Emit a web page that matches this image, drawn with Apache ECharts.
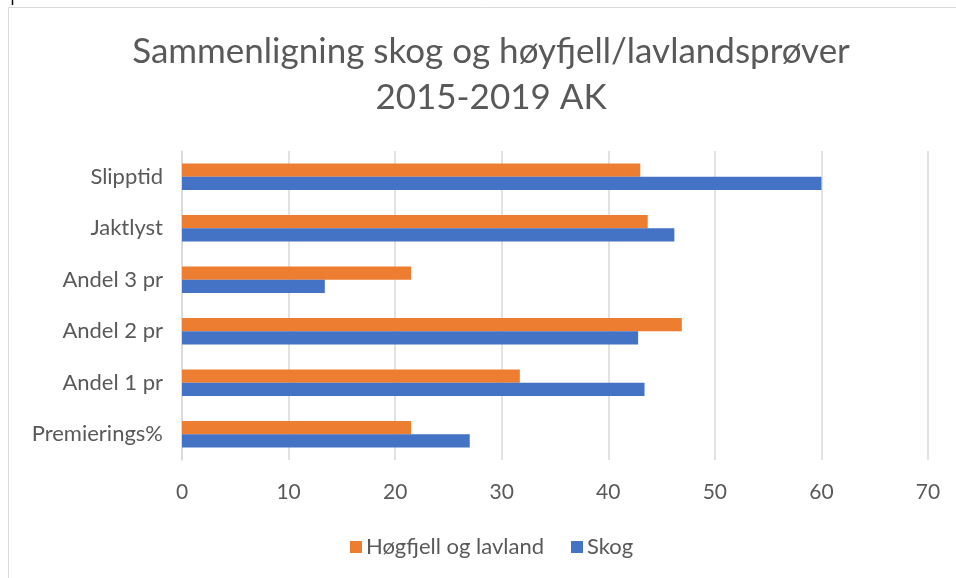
<!DOCTYPE html>
<html>
<head>
<meta charset="utf-8">
<script src="https://cdn.jsdelivr.net/npm/echarts@6/dist/echarts.min.js"></script>
<style>
html,body{margin:0;padding:0;background:#fff;}
#chart{width:956px;height:578px;}
</style>
</head>
<body>
<div id="chart"></div>
<script>
const categories = ['Premierings%', 'Andel 1 pr', 'Andel 2 pr', 'Andel 3 pr', 'Jaktlyst', 'Slipptid'];
const hoegfjell = [21.5, 31.7, 46.9, 21.5, 43.7, 43.0];
const skog = [27.0, 43.4, 42.8, 13.4, 46.2, 60.0];
const seriesNames = ['Høgfjell og lavland', 'Skog'];
const titleLines = 'Sammenligning skog og høyfjell/lavlandsprøver\n2015-2019 AK';
const xTicks = { min: 0, max: 70, interval: 10 };

const FONT = 'Lato';
const chart = echarts.init(document.getElementById('chart'), null, { renderer: 'canvas' });
chart.setOption({
  backgroundColor: '#fff',
  animation: false,
  graphic: [
    { type: 'line', shape: { x1: 8.5, y1: 7.5, x2: 956, y2: 7.5 }, style: { stroke: '#d9d9d9', lineWidth: 1 } },
    { type: 'line', shape: { x1: 8.5, y1: 7.5, x2: 8.5, y2: 578 }, style: { stroke: '#d9d9d9', lineWidth: 1 } },
    { type: 'line', shape: { x1: 12.5, y1: 0, x2: 12.5, y2: 5 }, style: { stroke: '#000', lineWidth: 1.5 } }
  ],
  title: {
    text: titleLines,
    left: 486,
    top: 24,
    textAlign: 'center',
    textStyle: { fontFamily: FONT, fontSize: 35, fontWeight: 'normal', color: '#595959', lineHeight: 46 }
  },
  legend: {
    data: seriesNames,
    left: 345,
    top: 531,
    itemWidth: 12,
    itemHeight: 12,
    itemGap: 27,
    icon: 'rect',
    textStyle: { fontFamily: FONT, fontSize: 22, color: '#595959', padding: [0, 0, 0, -1] }
  },
  grid: { left: 182, right: 28, top: 151, bottom: 118, containLabel: false },
  xAxis: {
    type: 'value',
    min: xTicks.min, max: xTicks.max, interval: xTicks.interval,
    axisLine: { show: false },
    axisTick: { show: false },
    splitLine: { show: true, lineStyle: { color: '#d9d9d9', width: 1.5 } },
    axisLabel: { fontFamily: FONT, fontSize: 21, color: '#595959', margin: 22 }
  },
  yAxis: {
    type: 'category',
    data: categories,
    axisLine: { show: true, lineStyle: { color: '#d9d9d9', width: 1.5 } },
    axisTick: { show: false },
    axisLabel: { fontFamily: FONT, fontSize: 22, color: '#595959', margin: 19 }
  },
  series: [
    { name: seriesNames[0], type: 'bar', data: hoegfjell, itemStyle: { color: '#ED7D31' }, barWidth: 13.3, barGap: '0%' },
    { name: seriesNames[1], type: 'bar', data: skog, itemStyle: { color: '#4472C4' }, barWidth: 13.3, barGap: '0%' }
  ]
});
</script>
</body>
</html>
